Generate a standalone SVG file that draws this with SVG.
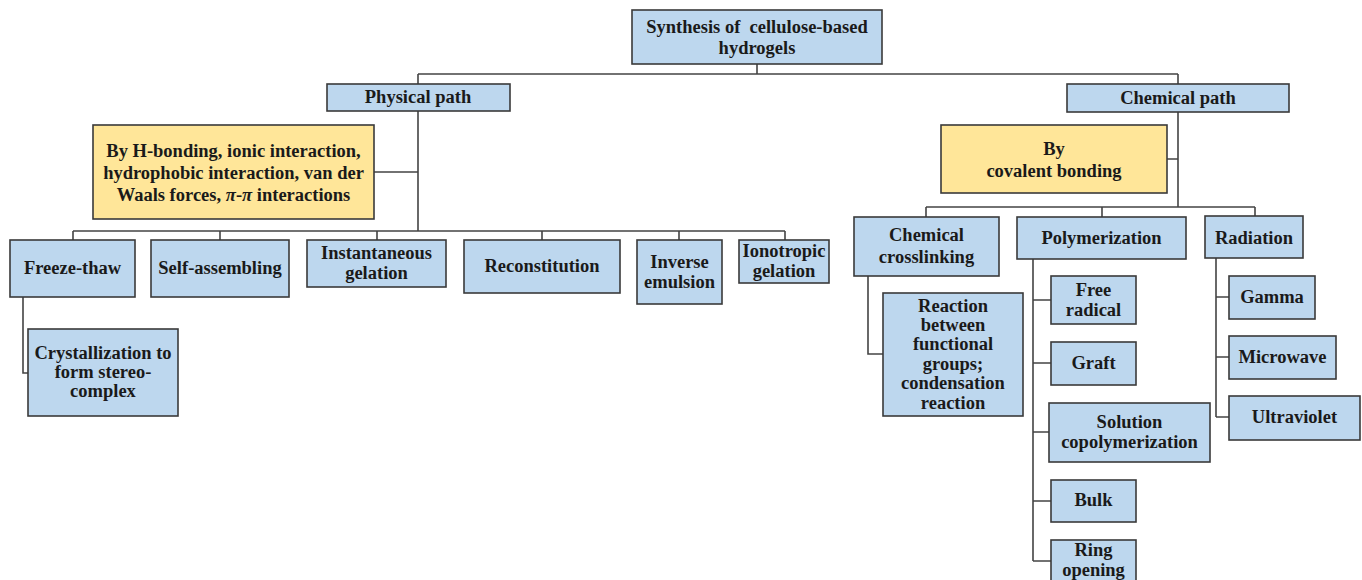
<svg xmlns="http://www.w3.org/2000/svg" width="1362" height="580" viewBox="0 0 1362 580">
<style>
.b{fill:#bdd7ee;stroke:#3a3a3a;stroke-width:1.6}
.y{fill:#ffe699;stroke:#3a3a3a;stroke-width:1.6}
.c{fill:none;stroke:#444;stroke-width:1.6}
text{font-family:"Liberation Serif","Times New Roman",serif;font-weight:bold;font-size:18.5px;fill:#1a1a1a;text-anchor:middle}
</style>
<rect width="1362" height="580" fill="#fff"/>
<g id="connectors">
<path class="c" d="M757 64V74M418 74H1178M418 74V84M1178 74V84"/>
<path class="c" d="M418 111V231M374 172H418M73 231H785M73 231V240M220 231V240M377 231V240M542 231V240M679 231V240M785 231V240"/>
<path class="c" d="M23 297V373H28"/>
<path class="c" d="M1178 112V207M1167 159H1178M926 207H1255M926 207V217M1102 207V217M1255 207V216"/>
<path class="c" d="M868 276V354H883"/>
<path class="c" d="M1033 259V561M1033 300H1051M1033 363H1051M1033 432H1049M1033 501H1051M1033 561H1051"/>
<path class="c" d="M1216 258V417M1216 297H1229M1216 357H1229M1216 417H1229"/>
</g>
<g id="root"><rect class="b" x="632" y="10" width="250" height="54"/><text x="757" y="33" xml:space="preserve">Synthesis of  cellulose-based</text><text x="757" y="54">hydrogels</text></g>
<g id="physical"><rect class="b" x="327" y="84" width="183" height="27"/><text x="418" y="103">Physical path</text></g>
<g id="chemical"><rect class="b" x="1067" y="84" width="222" height="28"/><text x="1178" y="104">Chemical path</text></g>
<g id="phys-bonds"><rect class="y" x="93" y="125" width="281" height="94"/><text x="233.5" y="157">By H-bonding, ionic interaction,</text><text x="233.5" y="179">hydrophobic interaction, van der</text><text x="233.5" y="201">Waals forces, <tspan font-style="italic">π</tspan>-<tspan font-style="italic">π</tspan> interactions</text></g>
<g id="chem-bonds"><rect class="y" x="941" y="125" width="226" height="68"/><text x="1054" y="155">By</text><text x="1054" y="177">covalent bonding</text></g>
<g id="freeze"><rect class="b" x="10" y="240" width="125" height="57"/><text x="72.5" y="274">Freeze-thaw</text></g>
<g id="self"><rect class="b" x="151" y="240" width="138" height="57"/><text x="220" y="274">Self-assembling</text></g>
<g id="instant"><rect class="b" x="307" y="240" width="139" height="47"/><text x="376.5" y="259">Instantaneous</text><text x="376.5" y="279">gelation</text></g>
<g id="recon"><rect class="b" x="464" y="240" width="156" height="53"/><text x="542" y="272">Reconstitution</text></g>
<g id="inverse"><rect class="b" x="637" y="240" width="85" height="64"/><text x="679.5" y="268">Inverse</text><text x="679.5" y="288">emulsion</text></g>
<g id="iono"><rect class="b" x="739" y="240" width="90" height="43"/><text x="784" y="257">Ionotropic</text><text x="784" y="277">gelation</text></g>
<g id="cryst"><rect class="b" x="28" y="329" width="150" height="87"/><text x="103" y="359">Crystallization to</text><text x="103" y="378">form stereo-</text><text x="103" y="397">complex</text></g>
<g id="crosslink"><rect class="b" x="854" y="217" width="145" height="59"/><text x="926.5" y="241">Chemical</text><text x="926.5" y="263">crosslinking</text></g>
<g id="polymer"><rect class="b" x="1017" y="217" width="169" height="42"/><text x="1101.5" y="244">Polymerization</text></g>
<g id="radiation"><rect class="b" x="1205" y="216" width="98" height="42"/><text x="1254" y="244">Radiation</text></g>
<g id="reaction"><rect class="b" x="883" y="293" width="140" height="123"/><text x="953" y="312">Reaction</text><text x="953" y="331">between</text><text x="953" y="350">functional</text><text x="953" y="370">groups;</text><text x="953" y="389">condensation</text><text x="953" y="409">reaction</text></g>
<g id="free"><rect class="b" x="1051" y="276" width="85" height="48"/><text x="1093.5" y="296">Free</text><text x="1093.5" y="316">radical</text></g>
<g id="graft"><rect class="b" x="1051" y="342" width="85" height="43"/><text x="1093.5" y="369">Graft</text></g>
<g id="solution"><rect class="b" x="1049" y="403" width="161" height="59"/><text x="1129.5" y="428">Solution</text><text x="1129.5" y="448">copolymerization</text></g>
<g id="bulk"><rect class="b" x="1051" y="480" width="85" height="42"/><text x="1093.5" y="506">Bulk</text></g>
<g id="ring"><rect class="b" x="1051" y="540" width="85" height="60"/><text x="1093.5" y="556">Ring</text><text x="1093.5" y="576">opening</text></g>
<g id="gamma"><rect class="b" x="1229" y="276" width="86" height="43"/><text x="1272" y="303">Gamma</text></g>
<g id="microwave"><rect class="b" x="1229" y="336" width="107" height="43"/><text x="1282.5" y="363">Microwave</text></g>
<g id="uv"><rect class="b" x="1229" y="396" width="131" height="44"/><text x="1294.5" y="423">Ultraviolet</text></g>
</svg>
